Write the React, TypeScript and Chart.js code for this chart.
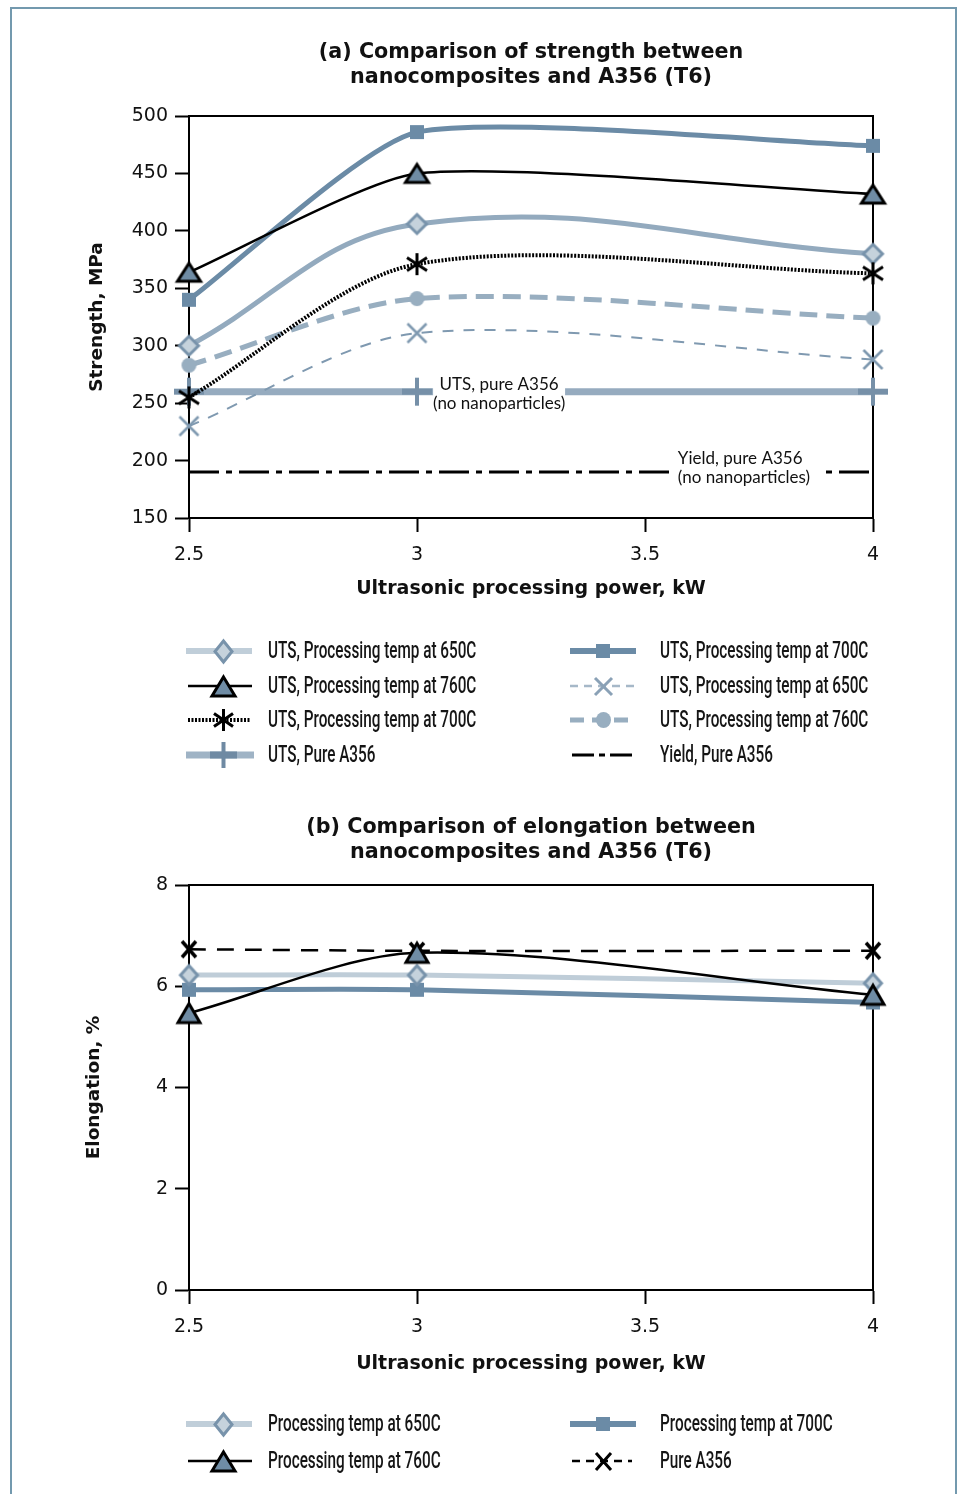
import React, { useEffect, useRef } from "react";
import { Chart, registerables } from "chart.js";
Chart.register(...registerables);

// ---------------- data ----------------
const POWER_KW = [2.5, 3, 4];
const X_TICKS = [2.5, 3, 3.5, 4];
const X_TICK_LABELS = ["2.5", "3", "3.5", "4"];
const STRENGTH_TICKS = [150, 200, 250, 300, 350, 400, 450, 500];
const ELONG_TICKS = [0, 2, 4, 6, 8];

// (a) strength, MPa
const UTS_650_SOLID = [300, 406, 380];
const UTS_700_SOLID = [340, 486, 474];
const UTS_760_SOLID = [364, 450, 432];
const UTS_700_DOTTED = [255, 371, 363];
const UTS_650_DASHED = [230, 311, 288];
const UTS_760_DASHED = [283, 341, 324];
const UTS_PURE = [260, 260, 260];
const YIELD_PURE = [190, 190, 190];

// (b) elongation, %
const EL_650 = [6.22, 6.22, 6.06];
const EL_700 = [5.93, 5.93, 5.68];
const EL_760 = [5.47, 6.66, 5.83];
const EL_PURE = [6.73, 6.7, 6.7];

const LEGEND_A_LABELS = [
  "UTS, Processing temp at 650C",
  "UTS, Processing temp at 760C",
  "UTS, Processing temp at 700C",
  "UTS, Pure A356",
  "UTS, Processing temp at 700C",
  "UTS, Processing temp at 650C",
  "UTS, Processing temp at 760C",
  "Yield, Pure A356",
];
const LEGEND_B_LABELS = [
  "Processing temp at 650C",
  "Processing temp at 760C",
  "Processing temp at 700C",
  "Pure A356",
];

// ---------------- helpers ----------------
function mk(kind: string, w: number, h: number, fill: string, stroke: string, lw: number, lw2?: number): HTMLCanvasElement {
  const pad = Math.ceil(lw) + 3;
  const c = document.createElement("canvas");
  c.width = Math.ceil(w) + pad * 2;
  c.height = Math.ceil(h) + pad * 2;
  const g = c.getContext("2d")!;
  const cx = c.width / 2, cy = c.height / 2;
  g.lineWidth = lw;
  g.strokeStyle = stroke;
  g.fillStyle = fill;
  g.lineJoin = "miter";
  g.lineCap = "butt";
  g.beginPath();
  if (kind === "diamond") {
    g.moveTo(cx, cy - h / 2); g.lineTo(cx + w / 2, cy); g.lineTo(cx, cy + h / 2); g.lineTo(cx - w / 2, cy); g.closePath();
    g.fill(); g.stroke();
  } else if (kind === "square") {
    g.rect(cx - w / 2, cy - h / 2, w, h); g.fill();
  } else if (kind === "triangle") {
    g.moveTo(cx, cy - h / 2); g.lineTo(cx + w / 2, cy + h / 2); g.lineTo(cx - w / 2, cy + h / 2); g.closePath();
    g.fill(); g.stroke();
  } else if (kind === "circle") {
    g.ellipse(cx, cy, w / 2, h / 2, 0, 0, Math.PI * 2); g.fill();
  } else if (kind === "x") {
    g.moveTo(cx - w / 2, cy - h / 2); g.lineTo(cx + w / 2, cy + h / 2);
    g.moveTo(cx + w / 2, cy - h / 2); g.lineTo(cx - w / 2, cy + h / 2); g.stroke();
  } else if (kind === "star") {
    g.moveTo(cx - w / 2, cy - h * 0.3); g.lineTo(cx + w / 2, cy + h * 0.3);
    g.moveTo(cx + w / 2, cy - h * 0.3); g.lineTo(cx - w / 2, cy + h * 0.3);
    g.moveTo(cx, cy - h / 2); g.lineTo(cx, cy + h / 2); g.stroke();
  } else if (kind === "plus") {
    g.moveTo(cx - w / 2, cy); g.lineTo(cx + w / 2, cy); g.stroke();
    g.beginPath(); g.lineWidth = lw2 ?? lw;
    g.moveTo(cx, cy - h / 2); g.lineTo(cx, cy + h / 2); g.stroke();
  }
  return c;
}

const pts = (ys: number[]) => POWER_KW.map((x, i) => ({ x, y: ys[i] }));

type LegendItem = {
  label: string; x0: number; x1: number; mx: number; tx: number; y: number;
  color: string; width: number; dash?: number[]; marker?: HTMLCanvasElement;
};

const legendPlugin = (items: LegendItem[]) => ({
  id: "customLegend",
  afterDraw(chart: any) {
    const ctx = chart.ctx as CanvasRenderingContext2D;
    items.forEach((it) => {
      ctx.save();
      ctx.strokeStyle = it.color;
      ctx.lineWidth = it.width;
      ctx.lineCap = "butt";
      ctx.setLineDash(it.dash || []);
      ctx.beginPath(); ctx.moveTo(it.x0, it.y); ctx.lineTo(it.x1, it.y); ctx.stroke();
      ctx.setLineDash([]);
      if (it.marker) ctx.drawImage(it.marker, Math.round(it.mx - it.marker.width / 2), Math.round(it.y - it.marker.height / 2));
      ctx.font = "500 23px Roboto";
      ctx.fillStyle = "#151515";
      ctx.textBaseline = "middle";
      ctx.textAlign = "left";
      ctx.translate(it.tx, it.y + 1);
      ctx.scale(0.665, 1);
      ctx.fillText(it.label, 0, 0);
      ctx.restore();
    });
  },
});

const framePlugin = {
  id: "frameBox",
  beforeDatasetsDraw(chart: any) {
    const { ctx, chartArea: a } = chart;
    ctx.save();
    ctx.strokeStyle = "#000";
    ctx.lineWidth = 2;
    ctx.beginPath();
    ctx.moveTo(a.left, a.top); ctx.lineTo(a.right, a.top); ctx.lineTo(a.right, a.bottom);
    ctx.stroke();
    ctx.restore();
  },
};

const annotationPlugin = {
  id: "pureLabels",
  afterDatasetsDraw(chart: any) {
    const { ctx, scales } = chart;
    const x = scales.x, y = scales.y;
    ctx.save();
    ctx.font = "17px Lato";
    ctx.textBaseline = "middle";
    // UTS label
    let px = x.getPixelForValue(3.18), py = y.getPixelForValue(260);
    ctx.fillStyle = "#fff";
    ctx.fillRect(px - 66, py - 15, 132, 36);
    ctx.fillStyle = "#111";
    ctx.textAlign = "center";
    ctx.fillText("UTS, pure A356", px, py - 7);
    ctx.fillText("(no nanoparticles)", px, py + 12);
    // Yield label
    px = x.getPixelForValue(3.572); py = y.getPixelForValue(190);
    ctx.fillStyle = "#fff";
    ctx.fillRect(px - 4, py - 22, 146, 36);
    ctx.fillStyle = "#111";
    ctx.textAlign = "left";
    ctx.fillText("Yield, pure A356", px, py - 14);
    ctx.fillText("(no nanoparticles)", px, py + 5);
    ctx.restore();
  },
};

function axisCommon() {
  return {
    grid: { display: true, drawOnChartArea: false, drawTicks: true, tickLength: 14, tickWidth: 2, tickColor: "#000", color: "#000" },
    border: { display: true, color: "#000", width: 2 },
  };
}

function buildOptions(cfg: {
  title: string[]; tTop: number; tBottom: number; yMin: number; yMax: number; yTicks: number[];
  yTitle: string; yTitlePad: number; xTitlePad: number; bottomPad: number;
}) {
  return {
    responsive: false,
    animation: false,
    devicePixelRatio: 1,
    layout: { padding: { left: 0, top: 0, right: 90, bottom: cfg.bottomPad } },
    plugins: {
      legend: { display: false },
      tooltip: { enabled: false },
      title: {
        display: true, fullSize: false, text: cfg.title, color: "#111",
        font: { family: "DejaVu Sans", weight: "bold", size: 20.7, lineHeight: 25 / 20.7 },
        padding: { top: cfg.tTop, bottom: cfg.tBottom },
      },
    },
    scales: {
      x: {
        type: "linear", min: 2.5, max: 4,
        afterBuildTicks: (s: any) => { s.ticks = X_TICKS.map((v) => ({ value: v })); },
        afterFit: (s: any) => { s.height = 90; },
        ticks: {
          autoSkip: false, maxRotation: 0, padding: 12, color: "#111",
          font: { family: "DejaVu Sans", size: 19 },
          callback: (v: any) => X_TICK_LABELS[X_TICKS.indexOf(Number(v))] ?? "",
        },
        title: {
          display: true, text: "Ultrasonic processing power, kW", color: "#111",
          font: { family: "DejaVu Sans", weight: "bold", size: 19, lineHeight: 1.2 },
          padding: { top: 0, bottom: cfg.xTitlePad },
        },
        ...axisCommon(),
      },
      y: {
        type: "linear", min: cfg.yMin, max: cfg.yMax,
        afterBuildTicks: (s: any) => { s.ticks = cfg.yTicks.map((v) => ({ value: v })); },
        afterFit: (s: any) => { s.width = 189; },
        ticks: { padding: 7, color: "#111", font: { family: "DejaVu Sans", size: 19 }, callback: (v: any) => String(v) },
        title: {
          display: true, text: cfg.yTitle, color: "#111",
          font: { family: "DejaVu Sans", weight: "bold", size: 18.5, lineHeight: 1.2 },
          padding: { top: cfg.yTitlePad, bottom: 0 },
        },
        ...axisCommon(),
      },
    },
  };
}

export default function App() {
  const refA = useRef<HTMLCanvasElement>(null);
  const refB = useRef<HTMLCanvasElement>(null);

  useEffect(() => {
    const C_LIGHT = "#93aabe";
    const C_DARK = "#6b8ba6";
    const C_XLINE = "#7f99b0";
    const C_CIRC = "#98aec0";
    const C_PURE = "#96abbf";
    const D_FILL = "#c5d2dc";
    const D_EDGE = "#7893ab";
    const T_FILL = "#6f8ca5";

    const base = { clip: false as any, pointRadius: 10, pointHoverRadius: 10, borderCapStyle: "butt", borderJoinStyle: "round", fill: false };

    const dsA = [
      { ...base, label: "UTS 700C dotted", data: pts(UTS_700_DOTTED), borderColor: "#000", borderWidth: 4, borderDash: [2, 1.5], tension: 0.3, pointStyle: mk("star", 20, 22, "#000", "#000", 3) },
      { ...base, label: "UTS 650C dashed", data: pts(UTS_650_DASHED), borderColor: C_XLINE, borderWidth: 2, borderDash: [11, 10], tension: 0.3, pointStyle: mk("x", 19, 19, C_XLINE, C_XLINE, 2.5) },
      { ...base, label: "UTS 760C dashed", data: pts(UTS_760_DASHED), borderColor: C_CIRC, borderWidth: 5, borderDash: [18, 9], tension: 0.3, pointStyle: mk("circle", 15, 15, C_CIRC, C_CIRC, 1) },
      { ...base, label: "UTS 760C", data: pts(UTS_760_SOLID), borderColor: "#000", borderWidth: 2.5, tension: 0.2, pointStyle: mk("triangle", 23, 18, T_FILL, "#000", 3) },
      { ...base, label: "UTS 650C", data: pts(UTS_650_SOLID), borderColor: C_LIGHT, borderWidth: 5, tension: 0.4, pointStyle: mk("diamond", 19, 19, D_FILL, D_EDGE, 3) },
      { ...base, label: "UTS 700C", data: pts(UTS_700_SOLID), borderColor: C_DARK, borderWidth: 5, tension: 0.2, pointStyle: mk("square", 14, 14, C_DARK, C_DARK, 1) },
      { ...base, label: "Yield pure", data: pts(YIELD_PURE), borderColor: "#000", borderWidth: 3, borderDash: [30, 7, 6, 7], tension: 0, pointRadius: 0 },
      { ...base, label: "UTS pure", data: pts(UTS_PURE), borderColor: C_PURE, borderWidth: 7, tension: 0, pointStyle: mk("plus", 30, 28, "#7690a8", "#7690a8", 6, 4) },
    ];

    const rowsA = [651, 686, 720, 755];
    const L = { x0: 186, x1: 252, mx: 223, tx: 268 };
    const R = { x0: 570, x1: 636, mx: 603, tx: 660 };
    const legA: LegendItem[] = [
      { ...L, y: rowsA[0], label: LEGEND_A_LABELS[0], color: "#c0ced9", width: 6, marker: mk("diamond", 17, 21, D_FILL, D_EDGE, 3) },
      { ...L, y: rowsA[1], label: LEGEND_A_LABELS[1], color: "#000", width: 2.5, x0: 188, marker: mk("triangle", 23, 19, T_FILL, "#000", 3) },
      { ...L, y: rowsA[2], label: LEGEND_A_LABELS[2], color: "#000", width: 4, dash: [2, 1.5], x0: 188, x1: 250, marker: mk("star", 19, 22, "#000", "#000", 3) },
      { ...L, y: rowsA[3], label: LEGEND_A_LABELS[3], color: "#9fb3c5", width: 7, x1: 254, marker: mk("plus", 27, 26, "#6f8aa3", "#6f8aa3", 7, 4) },
      { ...R, y: rowsA[0], label: LEGEND_A_LABELS[4], color: C_DARK, width: 6, marker: mk("square", 14, 14, C_DARK, C_DARK, 1) },
      { ...R, y: rowsA[1], label: LEGEND_A_LABELS[5], color: "#a6b8c8", width: 2.5, dash: [8, 6], marker: mk("x", 17, 17, "#8aa1b6", "#8aa1b6", 3) },
      { ...R, y: rowsA[2], label: LEGEND_A_LABELS[6], color: C_CIRC, width: 5, dash: [14, 8], marker: mk("circle", 15, 16, C_CIRC, C_CIRC, 1) },
      { ...R, y: rowsA[3], label: LEGEND_A_LABELS[7], color: "#000", width: 3, dash: [22, 5, 6, 5], x0: 572, x1: 634 },
    ];

    const chartA = new Chart(refA.current!, {
      type: "line",
      data: { datasets: dsA as any },
      options: buildOptions({
        title: ["(a) Comparison of strength between", "nanocomposites and A356 (T6)"],
        tTop: 40, tBottom: 26, yMin: 150, yMax: 500, yTicks: STRENGTH_TICKS,
        yTitle: "Strength, MPa", yTitlePad: 86, xTitlePad: 8, bottomPad: 182,
      }) as any,
      plugins: [framePlugin, annotationPlugin, legendPlugin(legA)],
    });

    const dsB = [
      { ...base, label: "760C", data: pts(EL_760), borderColor: "#000", borderWidth: 2.5, tension: 0.3, pointStyle: mk("triangle", 22, 19, T_FILL, "#000", 3) },
      { ...base, label: "650C", data: pts(EL_650), borderColor: "#bfcdd8", borderWidth: 5, tension: 0.3, pointStyle: mk("diamond", 17, 19, D_FILL, D_EDGE, 3) },
      { ...base, label: "700C", data: pts(EL_700), borderColor: C_DARK, borderWidth: 5, tension: 0.3, pointStyle: mk("square", 14, 14, C_DARK, C_DARK, 1) },
      { ...base, label: "Pure", data: pts(EL_PURE), borderColor: "#000", borderWidth: 2.5, borderDash: [17, 11], tension: 0.3, pointStyle: mk("x", 14, 16, "#000", "#000", 3.5) },
    ];

    const rowsB = [634, 671];
    const legB: LegendItem[] = [
      { ...L, y: rowsB[0], label: LEGEND_B_LABELS[0], color: "#c0ced9", width: 6, marker: mk("diamond", 17, 21, D_FILL, D_EDGE, 3) },
      { ...L, y: rowsB[1], label: LEGEND_B_LABELS[1], color: "#000", width: 2.5, x0: 188, marker: mk("triangle", 23, 19, T_FILL, "#000", 3) },
      { ...R, y: rowsB[0], label: LEGEND_B_LABELS[2], color: C_DARK, width: 6, marker: mk("square", 14, 14, C_DARK, C_DARK, 1) },
      { ...R, y: rowsB[1], label: LEGEND_B_LABELS[3], color: "#000", width: 2.5, dash: [8, 6], x0: 572, x1: 632, marker: mk("x", 15, 17, "#000", "#000", 3) },
    ];

    const chartB = new Chart(refB.current!, {
      type: "line",
      data: { datasets: dsB as any },
      options: buildOptions({
        title: ["(b) Comparison of elongation between", "nanocomposites and A356 (T6)"],
        tTop: 25, tBottom: 20, yMin: 0, yMax: 8, yTicks: ELONG_TICKS,
        yTitle: "Elongation, %", yTitlePad: 83, xTitlePad: 5, bottomPad: 114,
      }) as any,
      plugins: [framePlugin, legendPlugin(legB)],
    });

    return () => { chartA.destroy(); chartB.destroy(); };
  }, []);

  return (
    <div style={{ position: "absolute", left: 0, top: 0, width: 963, height: 1494, overflow: "hidden", background: "#fff" }}>
      <div style={{ position: "absolute", left: 10, top: 7, width: 947, height: 1600, border: "2px solid #7399ae", boxSizing: "border-box" }} />
      <canvas ref={refA} width={963} height={790} style={{ position: "absolute", left: 0, top: 0 }} />
      <canvas ref={refB} width={963} height={704} style={{ position: "absolute", left: 0, top: 790 }} />
    </div>
  );
}
